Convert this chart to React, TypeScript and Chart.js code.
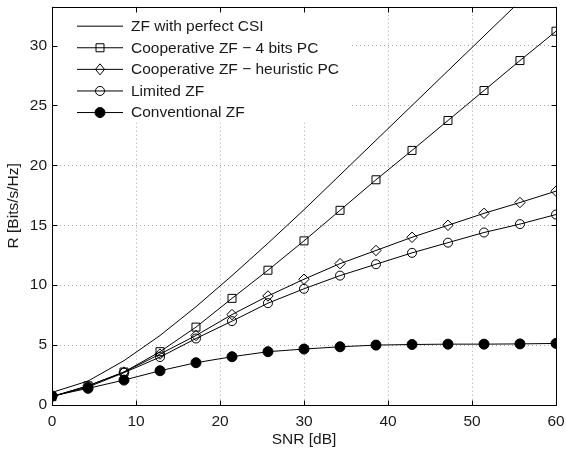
import React, { useEffect, useRef } from "react";
import { Chart, registerables } from "chart.js";

Chart.register(...registerables);

// ---- data ----
const snrDb = [0, 4.29, 8.57, 12.86, 17.14, 21.43, 25.71, 30, 34.29, 38.57, 42.86, 47.14, 51.43, 55.71, 60];
const zfPerfect = [1.05, 2.0, 3.7, 5.8, 8.2, 10.8, 13.5, 16.3, 19.2, 22.1, 25.0, 27.9, 30.8, 33.7, 36.6];
const coop4bits = [0.7, 1.6, 2.75, 4.45, 6.5, 8.9, 11.25, 13.7, 16.25, 18.8, 21.25, 23.75, 26.25, 28.75, 31.2];
const coopHeuristic = [0.7, 1.6, 2.75, 4.25, 5.8, 7.55, 9.1, 10.5, 11.8, 12.9, 14.0, 15.0, 16.0, 16.9, 17.85];
const limitedZf = [0.7, 1.5, 2.7, 4.0, 5.55, 7.0, 8.5, 9.7, 10.8, 11.75, 12.7, 13.55, 14.4, 15.1, 15.9];
const conventionalZf = [0.75, 1.39, 2.08, 2.86, 3.53, 4.03, 4.45, 4.67, 4.86, 5.0, 5.05, 5.08, 5.08, 5.1, 5.14];

const seriesLabels = [
  "ZF with perfect CSI",
  "Cooperative ZF \u2212 4 bits PC",
  "Cooperative ZF \u2212 heuristic PC",
  "Limited ZF",
  "Conventional ZF",
];
const xTicks = [0, 10, 20, 30, 40, 50, 60];
const yTicks = [0, 5, 10, 15, 20, 25, 30];
const X_MIN = 0;
const X_MAX = 60;
const Y_MIN = 0;
const Y_MAX = 33.25;
const xTitle = "SNR [dB]";
const yTitle = "R [Bits/s/Hz]";

const FONT_FAMILY = '"Liberation Sans", Arial, Helvetica, sans-serif';
const TEXT_COLOR = "#1a1a1a";

type Marker = "none" | "square" | "diamond" | "circle" | "dot";
const markers: Marker[] = ["none", "square", "diamond", "circle", "dot"];

function drawMarker(ctx: CanvasRenderingContext2D, m: Marker, x: number, y: number) {
  ctx.beginPath();
  if (m === "square") {
    ctx.rect(x - 4, y - 4, 8, 8);
    ctx.stroke();
  } else if (m === "diamond") {
    ctx.moveTo(x, y - 5.5);
    ctx.lineTo(x + 4.5, y);
    ctx.lineTo(x, y + 5.5);
    ctx.lineTo(x - 4.5, y);
    ctx.closePath();
    ctx.stroke();
  } else if (m === "circle") {
    ctx.arc(x, y, 4.5, 0, Math.PI * 2);
    ctx.stroke();
  } else if (m === "dot") {
    ctx.arc(x, y, 5, 0, Math.PI * 2);
    ctx.fillStyle = "#000";
    ctx.fill();
    ctx.stroke();
  }
}

const axesPlugin = {
  id: "matlabAxes",
  afterDatasetsDraw(chart: any) {
    const { ctx, chartArea: a, scales } = chart;
    const xs = scales.x;
    const ys = scales.y;
    ctx.save();
    // legend
    ctx.fillStyle = "#fff";
    ctx.fillRect(a.left + 1, a.top + 1, 297, 115);
    ctx.strokeStyle = "#000";
    ctx.lineWidth = 1;
    ctx.font = `15.5px ${FONT_FAMILY}`;
    ctx.textBaseline = "middle";
    ctx.textAlign = "left";
    for (let i = 0; i < seriesLabels.length; i++) {
      const yy = a.top + 19.5 + i * 21.6;
      ctx.beginPath();
      ctx.moveTo(a.left + 25, yy);
      ctx.lineTo(a.left + 71, yy);
      ctx.stroke();
      drawMarker(ctx, markers[i], a.left + 48, yy);
      ctx.fillStyle = TEXT_COLOR;
      ctx.fillText(seriesLabels[i], a.left + 79, yy + 0.5);
    }
    // frame
    const L = Math.round(a.left) + 0.5;
    const R = Math.round(a.right) + 0.5;
    const T = Math.round(a.top) + 0.5;
    const B = Math.round(a.bottom) + 0.5;
    ctx.strokeStyle = "#000";
    ctx.lineWidth = 1;
    ctx.strokeRect(L, T, R - L, B - T);
    // inward ticks
    const tl = 5;
    ctx.beginPath();
    for (const v of xTicks) {
      const px = Math.round(xs.getPixelForValue(v)) + 0.5;
      ctx.moveTo(px, B);
      ctx.lineTo(px, B - tl);
      ctx.moveTo(px, T);
      ctx.lineTo(px, T + tl);
    }
    for (const v of yTicks) {
      const py = Math.round(ys.getPixelForValue(v)) + 0.5;
      ctx.moveTo(L, py);
      ctx.lineTo(L + tl, py);
      ctx.moveTo(R, py);
      ctx.lineTo(R - tl, py);
    }
    ctx.stroke();
    ctx.restore();
  },
};

function makeDataset(label: string, values: number[], marker: Marker) {
  const base: any = {
    label,
    data: snrDb.map((x, i) => ({ x, y: values[i] })),
    borderColor: "#000",
    borderWidth: 1,
    tension: 0,
    pointBorderColor: "#000",
    pointBorderWidth: 1,
    pointBackgroundColor: "rgba(0,0,0,0)",
    pointHoverRadius: 0,
  };
  if (marker === "none") {
    base.pointRadius = 0;
  } else if (marker === "square") {
    base.pointStyle = "rect";
    base.pointRadius = 5.66;
  } else if (marker === "diamond") {
    base.pointStyle = "rectRot";
    base.pointRadius = 5.2;
  } else if (marker === "circle") {
    base.pointStyle = "circle";
    base.pointRadius = 4.5;
  } else {
    base.pointStyle = "circle";
    base.pointRadius = 5;
    base.pointBackgroundColor = "#000";
  }
  return base;
}

export default function App() {
  const ref = useRef<HTMLCanvasElement | null>(null);
  useEffect(() => {
    if (!ref.current) return;
    const chart = new Chart(ref.current, {
      type: "line",
      data: {
        datasets: [
          makeDataset(seriesLabels[0], zfPerfect, "none"),
          makeDataset(seriesLabels[1], coop4bits, "square"),
          makeDataset(seriesLabels[2], coopHeuristic, "diamond"),
          makeDataset(seriesLabels[3], limitedZf, "circle"),
          makeDataset(seriesLabels[4], conventionalZf, "dot"),
        ],
      },
      options: {
        animation: false,
        responsive: false,
        maintainAspectRatio: false,
        devicePixelRatio: 1,
        layout: { padding: { left: 0, right: 10, top: 6, bottom: 0 } },
        plugins: { legend: { display: false }, tooltip: { enabled: false } },
        events: [],
        scales: {
          x: {
            type: "linear",
            min: X_MIN,
            max: X_MAX,
            afterBuildTicks: (s: any) => {
              s.ticks = xTicks.map((v) => ({ value: v }));
            },
            afterFit: (s: any) => {
              s.height = 45;
              s.paddingLeft = 0;
              s.paddingRight = 0;
            },
            grid: { color: "#a8a8a8", lineWidth: 1, drawTicks: false },
            border: { display: false, dash: [1, 3] },
            ticks: {
              padding: 7,
              color: TEXT_COLOR,
              font: { family: FONT_FAMILY, size: 15.5 },
              maxRotation: 0,
              autoSkip: false,
            },
            title: {
              display: true,
              text: xTitle,
              color: TEXT_COLOR,
              font: { family: FONT_FAMILY, size: 15.5 },
              padding: { top: 0, bottom: 1 },
            },
          },
          y: {
            type: "linear",
            min: Y_MIN,
            max: Y_MAX,
            afterBuildTicks: (s: any) => {
              s.ticks = yTicks.map((v) => ({ value: v }));
            },
            afterFit: (s: any) => {
              s.width = 52;
              s.paddingTop = 0;
              s.paddingBottom = 0;
            },
            grid: { color: "#a8a8a8", lineWidth: 1, drawTicks: false },
            border: { display: false, dash: [1, 3] },
            ticks: {
              padding: 5,
              color: TEXT_COLOR,
              font: { family: FONT_FAMILY, size: 15.5 },
              autoSkip: false,
            },
            title: {
              display: true,
              text: yTitle,
              color: TEXT_COLOR,
              font: { family: FONT_FAMILY, size: 15.5 },
              padding: { top: 4, bottom: 0 },
            },
          },
        },
      } as any,
      plugins: [axesPlugin],
    });
    return () => chart.destroy();
  }, []);
  return (
    <div style={{ position: "absolute", left: 0, top: 0, width: 566, height: 450, background: "#fff" }}>
      <canvas ref={ref} width={566} height={450} style={{ display: "block", width: 566, height: 450 }} />
    </div>
  );
}
